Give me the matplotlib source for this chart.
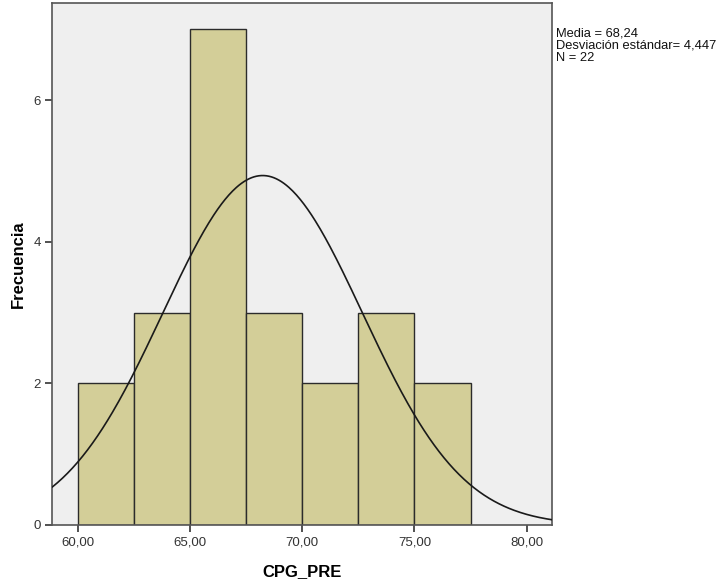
import numpy as np
import matplotlib
matplotlib.use("Agg")
import matplotlib.pyplot as plt

bin_edges = [60.0, 62.5, 65.0, 67.5, 70.0, 72.5, 75.0, 77.5]
counts = [2, 3, 7, 3, 2, 3, 2]
mean = 68.24
sd = 4.447
n = 22
xticks = [60, 65, 70, 75, 80]
xtick_labels = ["60,00", "65,00", "70,00", "75,00", "80,00"]
yticks = [0, 2, 4, 6]

plt.rcParams['font.family'] = ['Liberation Sans', 'DejaVu Sans']

fig = plt.figure(figsize=(7.23, 5.81), dpi=100)
ax = fig.add_axes([0.0726, 0.0964, 0.763 - 0.0726, 0.9948 - 0.0964])
ax.set_facecolor('#EFEFEF')

widths = np.diff(bin_edges)
ax.bar(bin_edges[:-1], counts, width=widths, align='edge', color='#D3CE98',
       edgecolor='#2B2B2B', linewidth=1.0, zorder=2)

xmin, xmax = 58.88, 81.11
xs = np.linspace(xmin, xmax, 400)
bw = bin_edges[1] - bin_edges[0]
ys = n * bw / (sd * np.sqrt(2 * np.pi)) * np.exp(-0.5 * ((xs - mean) / sd) ** 2)
ax.plot(xs, ys, color='#1A1A1A', linewidth=1.2, zorder=3)

ax.set_xlim(xmin, xmax)
ax.set_ylim(0, 7.37)
ax.set_xticks(xticks)
ax.set_xticklabels(xtick_labels)
ax.set_yticks(yticks)
ax.tick_params(axis='both', labelsize=9.5, colors='#333333', length=5, width=1.2, direction='out')
for s in ax.spines.values():
    s.set_color('#555555')
    s.set_linewidth(1.2)

ax.set_xlabel('CPG_PRE', fontsize=12, fontweight='bold', labelpad=11)
ax.set_ylabel('Frecuencia', fontsize=12, fontweight='bold', labelpad=5)

fig.text(0.769, 0.952, "Media = 68,24\nDesviación estándar= 4,447\nN = 22",
         fontsize=9.3, va='top', ha='left', linespacing=0.98, color='#111111')

fig.savefig('out.png', dpi=100)
